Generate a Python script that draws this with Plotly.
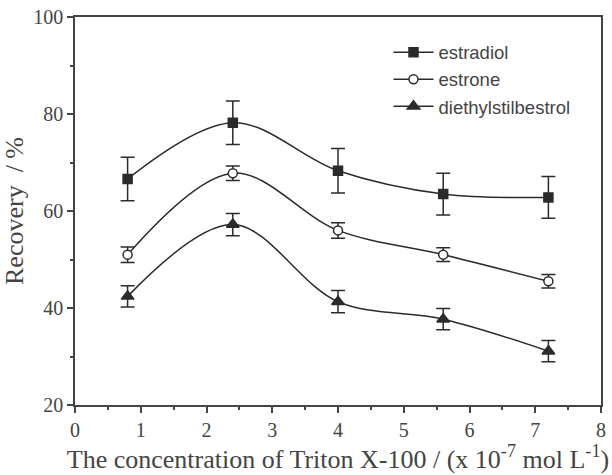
import plotly.graph_objects as go

conc = [0.8, 2.4, 4.0, 5.6, 7.2]
estradiol = [66.6, 78.2, 68.3, 63.5, 62.8]
estradiol_err = [4.5, 4.5, 4.6, 4.3, 4.3]
estrone = [51.0, 67.8, 56.0, 51.0, 45.5]
estrone_err = [1.6, 1.5, 1.6, 1.4, 1.4]
des = [42.4, 57.2, 41.3, 37.7, 31.1]
des_err = [2.2, 2.3, 2.3, 2.2, 2.2]

names = ["estradiol", "estrone", "diethylstilbestrol"]
symbols = ["square", "circle", "triangle-up"]
fills = ["#2b2b2b", "white", "#2b2b2b"]
sizes = [9, 9, 11]
C = "#2b2b2b"

fig = go.Figure()
for name, ys, es, sym, fc, sz in zip(names, [estradiol, estrone, des],
                                      [estradiol_err, estrone_err, des_err], symbols, fills, sizes):
    fig.add_trace(go.Scatter(
        x=conc, y=ys, name=name, mode="lines+markers", legendgroup=name,
        line=dict(color=C, width=1.5, shape="spline", smoothing=1.0),
        marker=dict(symbol=sym, size=sz, color=fc, line=dict(color=C, width=1.5)),
        error_y=dict(type="data", array=es, visible=True, color=C, thickness=1.5, width=7),
    ))

axis_common = dict(showline=True, linecolor="#444", linewidth=1.5, mirror=True,
                   ticks="outside", ticklen=6, tickwidth=1.5, tickcolor="#444",
                   showgrid=False, zeroline=False,
                   tickfont=dict(family="Liberation Serif", size=20, color="#444"))

fig.update_layout(
    width=612, height=475,
    margin=dict(l=75, r=6, t=12, b=70),
    paper_bgcolor="white", plot_bgcolor="white",
    showlegend=True,
    legend=dict(x=0.596, y=0.957, xanchor="left", yanchor="top",
                bgcolor="rgba(0,0,0,0)",
                font=dict(family="Liberation Sans", size=18.5, color="#444"),
                tracegroupgap=0, itemwidth=40),
    xaxis=dict(range=[0, 8], tickvals=[0, 1, 2, 3, 4, 5, 6, 7, 8],
               minor=dict(ticks="outside", ticklen=3, tickcolor="#444", dtick=0.5),
               title=dict(text="The concentration of Triton X-100 / (x 10<sup>-7</sup> mol L<sup>-1</sup>)",
                          font=dict(family="Liberation Serif", size=26, color="#444"), standoff=8),
               **axis_common),
    yaxis=dict(range=[20, 100], tickvals=[20, 40, 60, 80, 100],
               minor=dict(ticks="outside", ticklen=3, tickcolor="#444", dtick=10),
               title=dict(text="Recovery  / %",
                          font=dict(family="Liberation Serif", size=26, color="#444"), standoff=4),
               **axis_common),
)

fig.write_html("out.html")
